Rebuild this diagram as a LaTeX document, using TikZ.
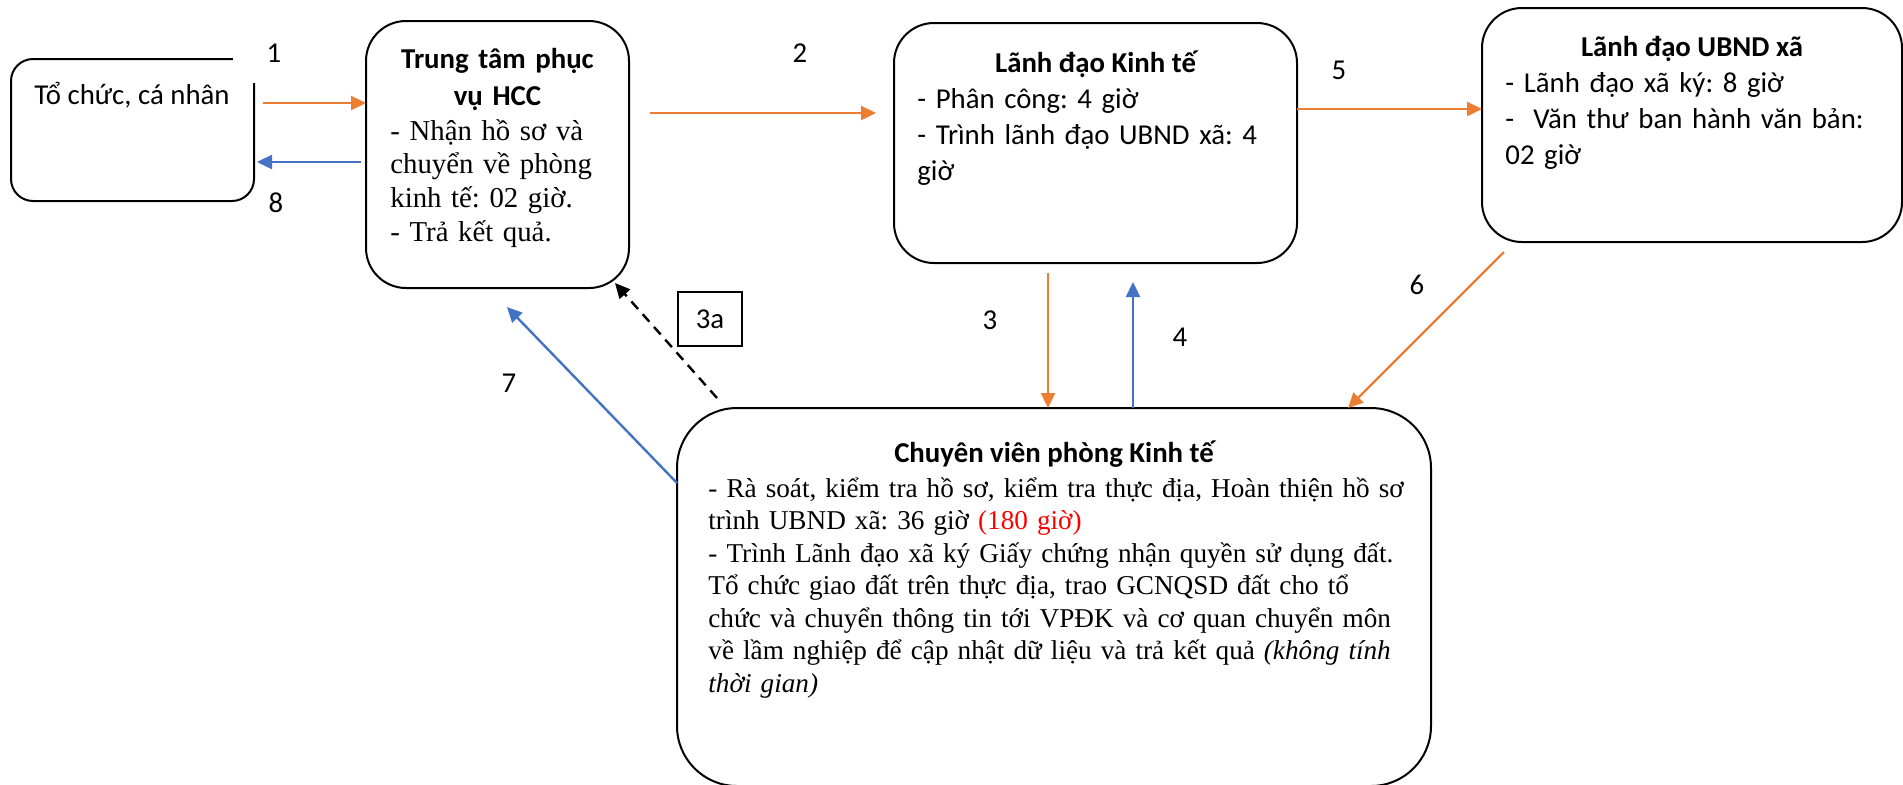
\documentclass[tikz,border=0pt]{standalone}
\usepackage{fontspec}
\setmainfont{Liberation Serif}
\newfontfamily\calib{Carlito}
\usetikzlibrary{arrows.meta}
\definecolor{orng}{HTML}{ED7D31}
\definecolor{blu}{HTML}{4472C4}
\definecolor{rd}{HTML}{FF0000}
\frenchspacing
\newcommand\jl[1]{\makebox[\linewidth][s]{#1}}
\newcommand\fc{\calib\frenchspacing\fontsize{14.4}{18}\selectfont}
\newcommand\fcb{\calib\bfseries\frenchspacing\fontsize{14.4}{18.5}\selectfont}
\newcommand\ftb{\frenchspacing\fontsize{14.4}{16.85}\selectfont}
\newcommand\ftc{\frenchspacing\fontsize{13.6}{16.25}\selectfont}
\tikzset{
  box/.style={draw, line width=1pt, inner sep=0pt, outer sep=0pt, anchor=north west, rounded corners=20pt},
  tip/.style={-{Triangle[length=7.5pt,width=7pt]}},
  oarrow/.style={draw=orng, line width=1.2pt, tip},
  barrow/.style={draw=blu, line width=1.2pt, tip},
  karrow/.style={draw=black, line width=1.2pt, dash pattern=on 5pt off 3.5pt, tip},
  lbl/.style={font=\fc, inner sep=0pt},
  head/.style={font=\fcb, inner sep=0pt, anchor=base, align=center},
  body/.style={inner sep=0pt, anchor=base west, align=left}
}
\begin{document}
\begin{tikzpicture}[x=0.5pt,y=-0.5pt]
\useasboundingbox (0,0) rectangle (1903,784);

% boxes
\node[box, rounded corners=11pt, minimum width=121.5pt, minimum height=71pt] (b1) at (11,59) {};
\node[box, minimum width=131.5pt, minimum height=133.5pt] (b2) at (366,21) {};
\node[box, minimum width=201.5pt, minimum height=120pt] (b3) at (894,23) {};
\node[box, minimum width=210pt, minimum height=117pt] (b4) at (1482,8) {};
\node[box, rounded corners=30pt, minimum width=377pt, minimum height=189pt] (b5) at (677,408) {};

% texts
\node[font=\fc, inner sep=0pt, anchor=base] (t1) at (132,104) {Tổ chức, cá nhân};

\node[head, text width=120pt] (t2h) at (497.5,68) {Trung tâm phục\\vụ HCC};
\node[body, font=\ftb, text width=108pt] (t2) at (390,140)
  {\jl{- Nhận hồ sơ và}\\\jl{chuyển về phòng}\\kinh tế: 02 giờ.\\- Trả kết quả.};

\node[head] (t3h) at (1095.5,72) {Lãnh đạo Kinh tế};
\node[body, font=\fc, text width=178pt] (t3) at (917,108)
  {- Phân công: 4 giờ\\\jl{- Trình lãnh đạo UBND xã: 4}\\giờ};

\node[head] (t4h) at (1692,56) {Lãnh đạo UBND xã};
\node[body, font=\fc, text width=187pt] (t4) at (1505,92)
  {- Lãnh đạo xã ký: 8 giờ\\-\ \ Văn thư ban hành văn bản:\\02 giờ};

\node[head] (t5h) at (1054,462) {Chuyên viên phòng Kinh tế};
\node[body, font=\ftc, text width=346pt] (t5) at (708,497)
  {\jl{- Rà soát, kiểm tra hồ sơ, kiểm tra thực địa, Hoàn thiện hồ sơ}\\
   trình UBND xã: 36 giờ \textcolor{rd}{(180 giờ)}\\
   \jl{- Trình Lãnh đạo xã ký Giấy chứng nhận quyền sử dụng đất.}\\
   \jl{Tổ chức giao đất trên thực địa, trao GCNQSD đất cho tổ}\\
   \jl{chức và chuyển thông tin tới VPĐK và cơ quan chuyển môn}\\
   \jl{về lầm nghiệp để cập nhật dữ liệu và trả kết quả \textit{(không tính}}\\
   \textit{thời gian)}};

% labels
\node[lbl, fill=white, minimum width=41pt, minimum height=30pt] (l1) at (274,53) {1};
\node[lbl] (l2) at (800,53) {2};
\node[lbl] (l3) at (990,320) {3};
\node[lbl] (l4) at (1180,337) {4};
\node[lbl] (l5) at (1339,70) {5};
\node[lbl] (l6) at (1417,285) {6};
\node[lbl] (l7) at (509,383) {7};
\node[lbl] (l8) at (276,203) {8};
\node[lbl, draw, line width=0.8pt, minimum width=32pt, minimum height=27pt] (l3a) at (710,319) {3a\hspace{5pt}};

% coordinates
\coordinate (a1s) at (263,103);
\coordinate (a8) at (300,162);
\coordinate (a2s) at (650,113);
\coordinate (a5) at (1390,109);
\coordinate (a3s) at (1048,273);
\coordinate (a4e) at (1133,282);
\coordinate (a6s) at (1504,252);
\coordinate (a6x) at (1348,300);
\coordinate (a7e) at (507,307);
\coordinate (a3as) at (717,398);
\coordinate (a3ae) at (615,283);

% connectors
\draw[oarrow] (a1s) -- (a1s -| b2.west);
\draw[barrow, shorten <=2.5pt, shorten >=1.5pt] (a8 -| b2.west) -- (a8 -| b1.east);
\draw[oarrow, shorten >=9pt] (a2s) -- (a2s -| b3.west);
\draw[oarrow] (a5 -| b3.east) -- (a5 -| b4.west);
\draw[oarrow] (a3s) -- (a3s |- b5.north);
\draw[barrow] (a4e |- b5.north) -- (a4e);
\draw[oarrow] (a6s) -- (a6x |- b5.north);
\draw[barrow] (b5.west |- 0,483) -- (a7e);
\draw[karrow] (a3as) -- (a3ae);
\end{tikzpicture}
\end{document}
